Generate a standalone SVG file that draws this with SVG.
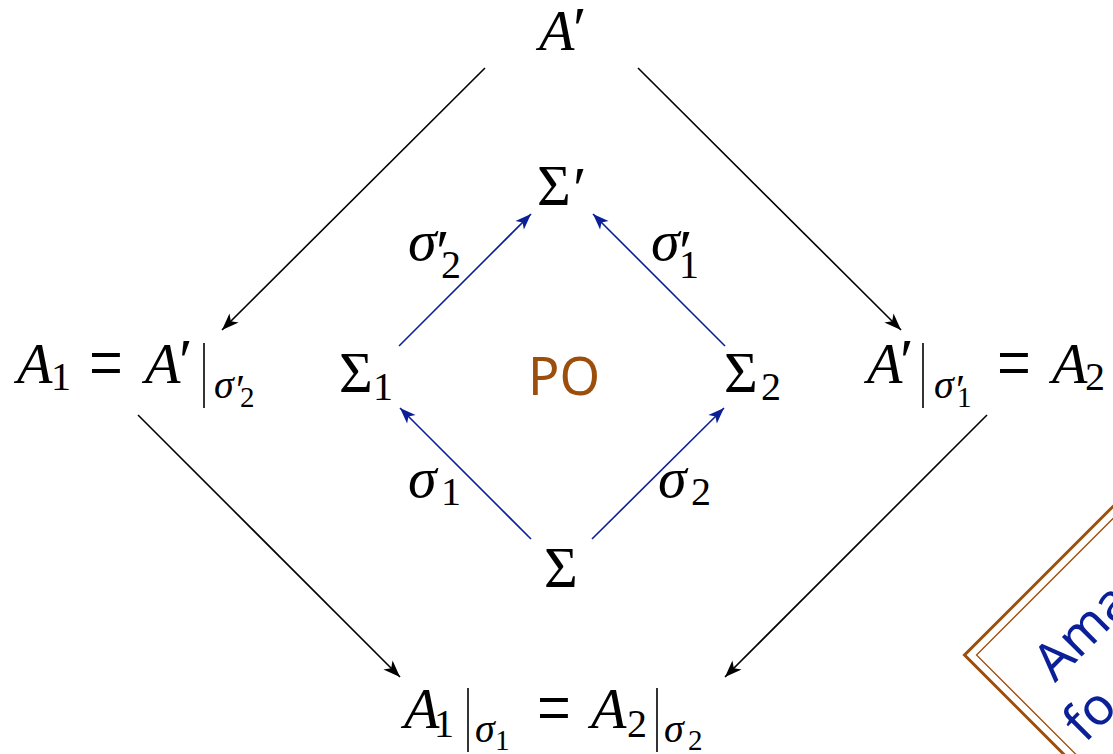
<svg xmlns="http://www.w3.org/2000/svg" width="1113" height="754" viewBox="0 0 1113 754">
<defs>
<marker id="ak" viewBox="-18 -8 20 16" refX="0" refY="0" markerWidth="20" markerHeight="16" orient="auto" markerUnits="userSpaceOnUse"><path d="M0,0 L-17,-6.5 L-12.5,0 L-17,6.5 Z" fill="#000"/></marker>
<marker id="ab" viewBox="-18 -8 20 16" refX="0" refY="0" markerWidth="20" markerHeight="16" orient="auto" markerUnits="userSpaceOnUse"><path d="M0,0 L-16,-6 L-12,0 L-16,6 Z" fill="#0b1f96"/></marker>
</defs>
<rect width="1113" height="754" fill="#fff"/>

<g id="connectors">
<g fill="none" stroke="#000" stroke-width="1.6">
<path d="M485,68 L222,330" marker-end="url(#ak)"/>
<path d="M638,68 L901,330" marker-end="url(#ak)"/>
<path d="M138,415 L400,677" marker-end="url(#ak)"/>
<path d="M987,415 L725,677" marker-end="url(#ak)"/>
</g>
<g fill="none" stroke="#0b1f96" stroke-width="1.6">
<path d="M399,346 L531,214" marker-end="url(#ab)"/>
<path d="M725,346 L593,214" marker-end="url(#ab)"/>
<path d="M531,539 L400,408" marker-end="url(#ab)"/>
<path d="M592,539 L724,408" marker-end="url(#ab)"/>
</g>
<g id="lbl-s2p"><text font-family="Liberation Serif" font-style="italic" font-size="58" x="408" y="260">σ</text><text font-family="Liberation Serif" font-size="62" x="436" y="272">′</text><text font-family="Liberation Serif" font-size="40" x="441" y="278">2</text></g>
<g id="lbl-s1p"><text font-family="Liberation Serif" font-style="italic" font-size="58" x="651" y="260">σ</text><text font-family="Liberation Serif" font-size="62" x="679" y="272">′</text><text font-family="Liberation Serif" font-size="40" x="679" y="278">1</text></g>
<g id="lbl-s1"><text font-family="Liberation Serif" font-style="italic" font-size="58" x="408" y="497">σ</text><text font-family="Liberation Serif" font-size="40" x="441" y="505">1</text></g>
<g id="lbl-s2"><text font-family="Liberation Serif" font-style="italic" font-size="58" x="658" y="497">σ</text><text font-family="Liberation Serif" font-size="40" x="691" y="505">2</text></g>
</g>

<g id="node-Aprime"><text font-family="Liberation Serif" font-style="italic" font-size="58" x="539" y="50">A</text><text font-family="Liberation Serif" font-size="62" x="573" y="49">′</text></g>
<g id="node-Sigmaprime"><text font-family="Liberation Serif" font-size="58" x="537" y="205">Σ</text><text font-family="Liberation Serif" font-size="62" x="573" y="209">′</text></g>
<g id="node-Sigma1"><text font-family="Liberation Serif" font-size="58" x="339" y="392">Σ</text><text font-family="Liberation Serif" font-size="40" x="373" y="400">1</text></g>
<g id="node-Sigma2"><text font-family="Liberation Serif" font-size="58" x="724" y="392">Σ</text><text font-family="Liberation Serif" font-size="40" x="761" y="400">2</text></g>
<g id="node-Sigma"><text font-family="Liberation Serif" font-size="58" x="544" y="587">Σ</text></g>

<g id="node-A1">
<text font-family="Liberation Serif" font-style="italic" font-size="58" x="17" y="383">A</text><text font-family="Liberation Serif" font-size="40" x="51" y="390">1</text>
<text font-family="Liberation Serif" font-size="60" transform="translate(89,390) scale(1,1.35)">=</text>
<text font-family="Liberation Serif" font-style="italic" font-size="58" x="145" y="383">A</text><text font-family="Liberation Serif" font-size="62" x="179" y="381">′</text>
<line x1="204" y1="343" x2="204" y2="408" stroke="#000" stroke-width="1.6"/>
<text font-family="Liberation Serif" font-style="italic" font-size="40" x="214" y="398">σ</text><text font-family="Liberation Serif" font-size="42" x="236" y="404">′</text><text font-family="Liberation Serif" font-size="29" x="240" y="407">2</text>
</g>

<g id="node-A2">
<text font-family="Liberation Serif" font-style="italic" font-size="58" x="867" y="383">A</text><text font-family="Liberation Serif" font-size="62" x="900" y="381">′</text>
<line x1="923" y1="343" x2="923" y2="408" stroke="#000" stroke-width="1.6"/>
<text font-family="Liberation Serif" font-style="italic" font-size="40" x="934" y="398">σ</text><text font-family="Liberation Serif" font-size="42" x="956" y="404">′</text><text font-family="Liberation Serif" font-size="29" x="957" y="407">1</text>
<text font-family="Liberation Serif" font-size="60" transform="translate(997,390) scale(1,1.35)">=</text>
<text font-family="Liberation Serif" font-style="italic" font-size="58" x="1052" y="383">A</text><text font-family="Liberation Serif" font-size="40" x="1085" y="390">2</text>
</g>

<g id="node-bottom">
<text font-family="Liberation Serif" font-style="italic" font-size="58" x="404" y="728">A</text><text font-family="Liberation Serif" font-size="40" x="434" y="737">1</text>
<line x1="468" y1="688" x2="468" y2="752" stroke="#000" stroke-width="1.6"/>
<text font-family="Liberation Serif" font-style="italic" font-size="40" x="475" y="742">σ</text><text font-family="Liberation Serif" font-size="29" x="495" y="750">1</text>
<text font-family="Liberation Serif" font-size="60" transform="translate(537,735) scale(1,1.35)">=</text>
<text font-family="Liberation Serif" font-style="italic" font-size="58" x="591" y="728">A</text><text font-family="Liberation Serif" font-size="40" x="627" y="737">2</text>
<line x1="657" y1="688" x2="657" y2="752" stroke="#000" stroke-width="1.6"/>
<text font-family="Liberation Serif" font-style="italic" font-size="40" x="664" y="742">σ</text><text font-family="Liberation Serif" font-size="29" x="688" y="750">2</text>
</g>

<g id="node-PO"><text font-family="Noto Sans" font-size="52" fill="#9c4f0c" text-anchor="middle" x="564" y="395">PO</text></g>

<g id="note-box" transform="translate(964.5,655) rotate(-45)">
<rect x="0" y="0" width="420" height="420" fill="none" stroke="#9c4f0c" stroke-width="3"/>
<rect x="8.5" y="8.5" width="403" height="403" fill="none" stroke="#9c4f0c" stroke-width="1.3"/>
<text font-family="Noto Sans" font-size="52" fill="#0b1f96" x="44" y="84">Ama</text>
<text font-family="Noto Sans" font-size="52" fill="#0b1f96" x="22" y="148">fo</text>
</g>
</svg>
